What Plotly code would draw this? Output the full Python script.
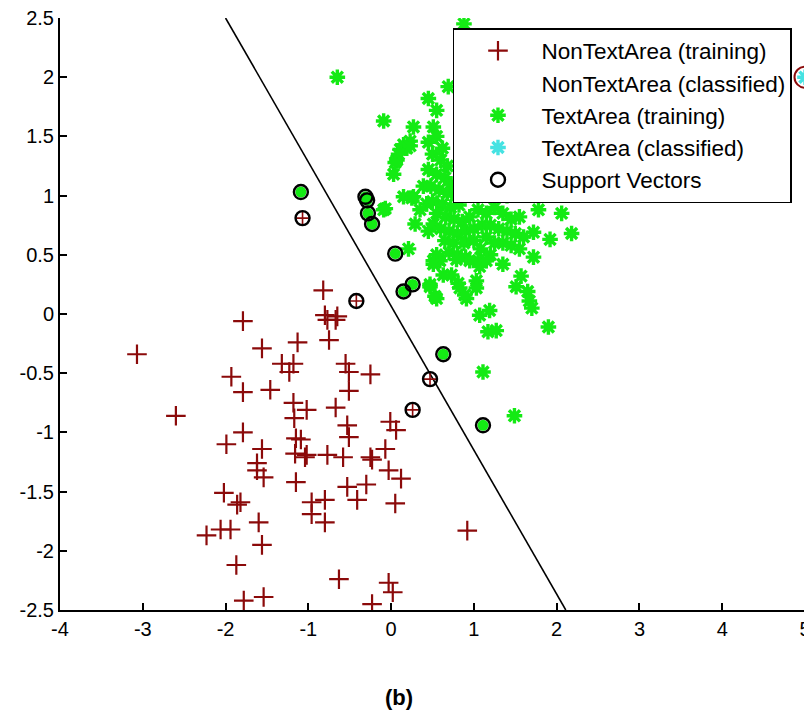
import plotly.graph_objects as go

# ---------------- data ----------------
nontext_x = [-3.07, -2.60, -1.93, -1.79, -1.79, -1.79, -1.99, -1.62, -1.62, -1.54,
             -2.02, -1.86, -1.82, -1.60, -2.23, -2.06, -1.94, -1.56, -1.87, -1.78,
             -1.54, -1.56, -1.56, -0.82, -0.80, -0.65, -0.77, -0.67, -1.13, -0.75,
             -1.32, -1.18, -1.23, -0.55, -0.51, -1.46, -0.51, -1.18, -1.02, -1.17,
             -0.67, -0.53, -0.51, -1.15, -1.09, -1.16, -1.04, -1.02, -0.77, -0.58,
             -1.15, -0.53, -0.41, -0.96, -0.80, -0.96, -0.80, -0.63, -0.41, -0.25,
             -0.01, 0.06, -0.25, -0.23, -0.07, -0.03, 0.12, -0.30, 0.05, 0.92,
             -0.03, 0.02, -0.23]
nontext_y = [-0.34, -0.86, -0.53, -0.66, -0.06, -1.00, -1.10, -1.26, -1.32, -1.38,
             -1.51, -1.61, -1.59, -1.76, -1.87, -1.82, -1.82, -1.95, -2.12, -2.42,
             -2.39, -0.29, -1.14, 0.20, -0.01, -0.02, -0.05, -0.05, -0.24, -0.22,
             -0.42, -0.42, -0.49, -0.42, -0.49, -0.64, -0.65, -0.75, -0.81, -0.88,
             -0.79, -0.94, -1.04, -1.05, -1.06, -1.18, -1.21, -1.19, -1.19, -1.21,
             -1.42, -1.46, -1.57, -1.59, -1.57, -1.69, -1.76, -2.24, -2.51, -0.51,
             -0.91, -0.98, -1.21, -1.23, -1.14, -1.32, -1.39, -1.44, -1.60, -1.83,
             -2.27, -2.35, -2.45]

text_x = [-0.65, 0.88, -0.09, 0.45, 0.55, 0.27, 0.69, 0.03, 0.11, 0.19, 0.07, 0.23,
          0.51, 0.15, 0.27, -0.07, 0.15, 0.23, 0.09, 0.05, -0.09, 0.25, 0.29, 0.21,
          0.47, 0.55, 0.57, 0.51, 0.63, 0.73, 0.81, 0.83, 0.91, 0.89, 1.03, 1.03,
          1.07, 1.19, 1.17, 1.27, 1.11, 1.49, 1.57, 1.51, 1.65, 1.67, 1.70, 1.90,
          1.72, 1.92, 2.18, 2.06, 1.78, 1.72,
          0.45, 0.51, 0.55, 0.59, 0.51, 0.47, 0.53, 0.39, 0.43, 0.35,
          0.45, 0.55, 0.62, 0.50, 0.60, 0.68, 0.45, 0.55, 0.65, 0.72, 0.48, 0.58,
          0.68, 0.78, 0.50, 0.62, 0.72, 0.82, 0.55, 0.66, 0.76, 0.86, 0.95, 0.60,
          0.70, 0.80, 0.90, 1.00, 1.10, 0.65, 0.75, 0.88, 1.00, 0.70, 0.80, 0.90,
          1.05, 1.15, 1.25, 1.35, 1.45, 1.55, 1.20, 1.30, 1.40, 1.50, 1.60, 1.35,
          1.45, 1.55, 1.15, 1.25, 1.08, 1.05, 1.20, 0.95, 1.07, 1.15, 1.35, 0.79,
          0.90, 1.10, 1.30, 1.00, 1.20, 1.40, 0.85]
text_y = [2.00, 2.45, 1.63, 1.82, 1.72, 1.58, 1.92, 1.18, 1.39, 1.40, 1.30, 1.46,
          1.58, 0.99, 0.99, 0.89, 1.43, 1.42, 1.35, 1.28, 0.88, 0.98, 0.76, 0.55,
          0.25, 0.13, 0.46, 0.45, 0.33, 0.33, 0.26, 0.22, 0.13, 0.16, 0.28, 0.22,
          -0.01, 0.03, -0.15, -0.14, -0.49, -0.86, 0.32, 0.23, 0.19, 0.11, 0.05, -0.11,
          0.48, 0.63, 0.68, 0.85, 0.88, 0.69,
          0.70, 0.76, 0.50, 0.45, 0.42, 0.23, 0.15, 1.08, 0.93, 0.88,
          1.45, 1.50, 1.40, 1.35, 1.30, 1.25, 1.22, 1.18, 1.15, 1.10, 1.08, 1.05,
          1.02, 1.00, 0.95, 0.93, 0.90, 0.92, 0.85, 0.82, 0.80, 0.78, 0.82, 0.72,
          0.70, 0.68, 0.70, 0.72, 0.75, 0.62, 0.60, 0.60, 0.62, 0.52, 0.50, 0.48,
          0.88, 0.85, 0.90, 0.85, 0.80, 0.82, 0.75, 0.72, 0.70, 0.68, 0.65, 0.60,
          0.58, 0.55, 0.65, 0.60, 0.55, 0.45, 0.50, 0.45, 0.40, 0.45, 0.42, 0.46,
          1.30, 1.20, 1.10, 1.05, 1.40, 1.00, 1.15]

sv_nontext_x = [-1.07, -0.42, 0.47, 0.26]
sv_nontext_y = [0.81, 0.11, -0.55, -0.81]
sv_text_x = [-1.09, -0.31, -0.29, -0.28, -0.23, 0.05, 0.15, 0.26, 0.63, 1.11]
sv_text_y = [1.03, 0.99, 0.96, 0.85, 0.76, 0.51, 0.19, 0.25, -0.34, -0.94]

classified_text_x = [5.0]
classified_text_y = [2.0]

boundary_x = [-2.00, 2.11]
boundary_y = [2.50, -2.50]

x_ticks = [-4, -3, -2, -1, 0, 1, 2, 3, 4, 5]
x_tick_labels = ["-4", "-3", "-2", "-1", "0", "1", "2", "3", "4", "5"]
y_ticks = [-2.5, -2, -1.5, -1, -0.5, 0, 0.5, 1, 1.5, 2, 2.5]
y_tick_labels = ["-2.5", "-2", "-1.5", "-1", "-0.5", "0", "0.5", "1", "1.5", "2", "2.5"]

# ---------------- styles ----------------
RED = "#8b0a0a"
GREEN = "#14ea14"
CYAN = "#45e2e2"
FONT = "Liberation Sans, Arial, sans-serif"

fig = go.Figure()

# decision boundary
fig.add_trace(go.Scatter(x=boundary_x, y=boundary_y, mode="lines",
                         line=dict(color="black", width=1.6), showlegend=False,
                         hoverinfo="skip"))

fig.add_trace(go.Scatter(x=nontext_x, y=nontext_y, mode="markers",
                         name="NonTextArea (training)", legendgroup="a",
                         marker=dict(symbol="cross-thin", size=14, color=RED,
                                     line=dict(color=RED, width=2.2))))
fig.add_trace(go.Scatter(x=sv_nontext_x, y=sv_nontext_y, mode="markers",
                         showlegend=False, legendgroup="a",
                         marker=dict(symbol="cross-thin", size=9, color=RED,
                                     line=dict(color=RED, width=1.6))))
fig.add_trace(go.Scatter(x=[None], y=[None], mode="markers",
                         name="NonTextArea (classified)", legendgroup="b",
                         marker=dict(symbol="circle", size=10,
                                     color="rgba(0,0,0,0)",
                                     line=dict(color="rgba(0,0,0,0)", width=0))))
fig.add_trace(go.Scatter(x=text_x, y=text_y, mode="markers",
                         name="TextArea (training)", legendgroup="c",
                         marker=dict(symbol="asterisk", size=13, color=GREEN,
                                     line=dict(color=GREEN, width=3.4))))
fig.add_trace(go.Scatter(x=sv_text_x, y=sv_text_y, mode="markers",
                         showlegend=False, legendgroup="c",
                         marker=dict(symbol="circle", size=11, color=GREEN,
                                     line=dict(width=0))))
fig.add_trace(go.Scatter(x=classified_text_x, y=classified_text_y, mode="markers",
                         showlegend=False, cliponaxis=False,
                         marker=dict(symbol="circle-open", size=21, color=RED,
                                     line=dict(color=RED, width=2))))
fig.add_trace(go.Scatter(x=classified_text_x, y=classified_text_y, mode="markers",
                         name="TextArea (classified)", legendgroup="d",
                         cliponaxis=False,
                         marker=dict(symbol="asterisk", size=13, color=CYAN,
                                     line=dict(color=CYAN, width=3.4))))
fig.add_trace(go.Scatter(x=sv_nontext_x + sv_text_x, y=sv_nontext_y + sv_text_y,
                         mode="markers", name="Support Vectors", legendgroup="e",
                         marker=dict(symbol="circle-open", size=14, color="black",
                                     line=dict(color="black", width=2.4))))

# The page body adds an 8px offset, so the figure is sized to fit the window.
fig.update_layout(
    width=804, height=707,
    margin=dict(l=52, r=7, t=10, b=105),
    paper_bgcolor="white", plot_bgcolor="white",
    font=dict(family=FONT, size=20, color="black"),
    showlegend=True,
    legend=dict(x=0.5275, xanchor="left", y=0.983, yanchor="top",
                bgcolor="white", bordercolor="black", borderwidth=1.5,
                font=dict(family=FONT, size=22.5, color="black"),
                traceorder="grouped", tracegroupgap=0, itemwidth=77),
    xaxis=dict(range=[-4, 5], tickvals=x_ticks, ticktext=x_tick_labels,
               ticks="inside", ticklen=7, tickwidth=2, tickcolor="black",
               showline=True, linecolor="black", linewidth=2, showgrid=False,
               zeroline=False, mirror=False, fixedrange=True, automargin=False,
               ticklabeloverflow="allow"),
    yaxis=dict(range=[-2.5, 2.5], tickvals=y_ticks, ticktext=y_tick_labels,
               ticks="inside", ticklen=7, tickwidth=2, tickcolor="black",
               showline=True, linecolor="black", linewidth=2, showgrid=False,
               zeroline=False, mirror=False, fixedrange=True, automargin=False,
               ticklabeloverflow="allow"),
    annotations=[dict(text="<b>(b)</b>", xref="paper", yref="paper",
                      x=0.455, y=-0.148, xanchor="center", yanchor="middle",
                      showarrow=False, font=dict(family=FONT, size=22, color="black"))],
)

fig.write_html("out.html")
